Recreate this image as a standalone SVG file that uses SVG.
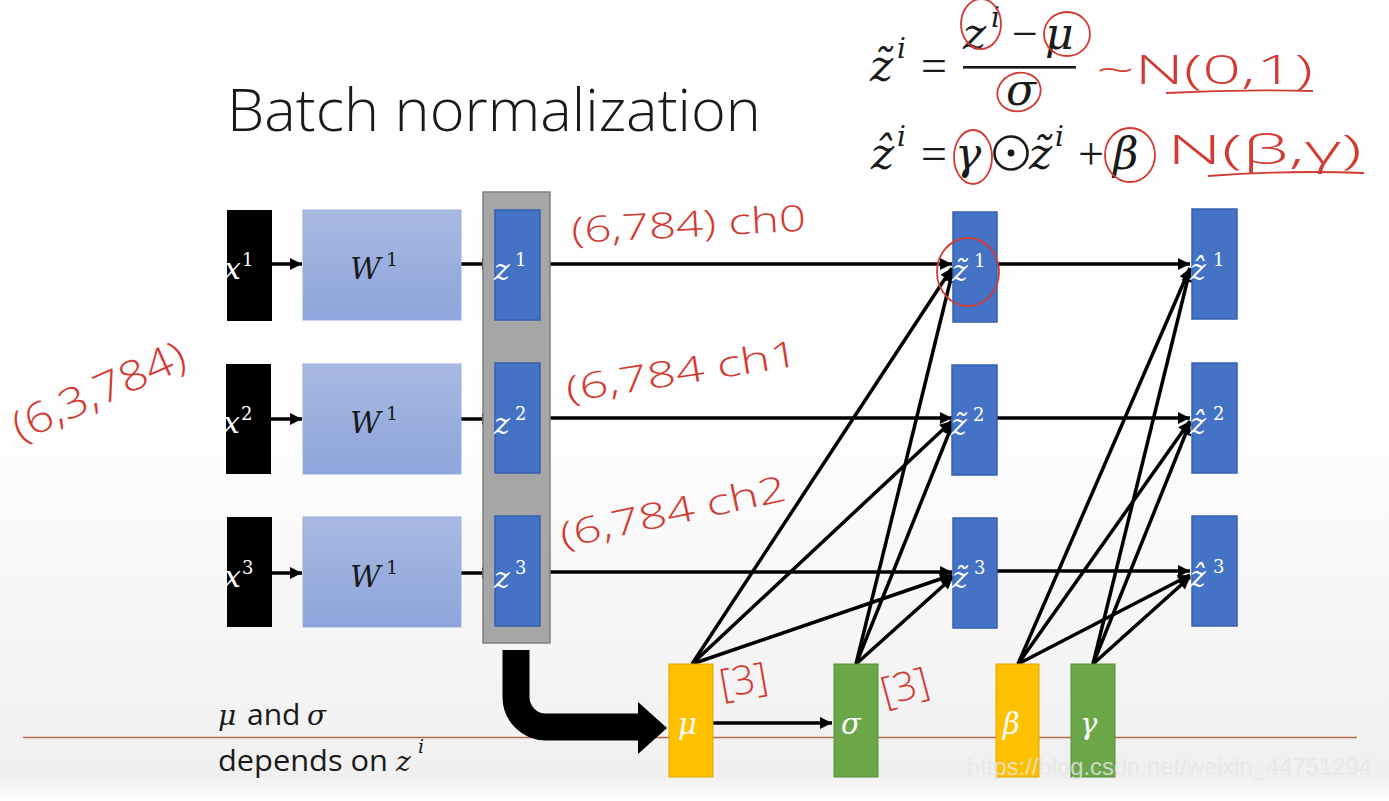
<svg xmlns="http://www.w3.org/2000/svg" width="1389" height="801" viewBox="0 0 1389 801">
<defs>
<linearGradient id="bg" x1="0" y1="0" x2="0" y2="1">
<stop offset="0" stop-color="#FFFFFF"/>
<stop offset="0.55" stop-color="#FDFDFD"/>
<stop offset="0.97" stop-color="#F0F0F0"/>
<stop offset="1" stop-color="#FFFFFF"/>
</linearGradient>
<linearGradient id="wg" x1="0" y1="0" x2="0" y2="1">
<stop offset="0" stop-color="#A9B9E2"/>
<stop offset="1" stop-color="#8DA5DB"/>
</linearGradient>
<marker id="ah" viewBox="0 0 10 10" refX="10" refY="5" markerWidth="15" markerHeight="12" markerUnits="userSpaceOnUse" orient="auto">
<path d="M0,0 L10,5 L0,10 z" fill="#000"/>
</marker>
<style>
.xb{fill:#000}
.wb{fill:url(#wg);stroke:#9AAEDD;stroke-width:1}
.zb{fill:#4472C4;stroke:#3560AE;stroke-width:1.5}
.yb{fill:#FFC000;stroke:#E0A800;stroke-width:1}
.gb{fill:#6BA649;stroke:#58903A;stroke-width:1}
.m{font-family:"DejaVu Serif",serif;font-style:italic}
.s{font-family:"DejaVu Serif",serif;font-style:normal}
.o{font-family:"Liberation Serif",serif;font-style:normal}
.wt{fill:#FFFFFF}
.dk{fill:#1A1A1A}
.c{stroke:#000;stroke-width:3.5;fill:none;marker-end:url(#ah)}
.red{fill:#D23A32;font-family:"Open Sans","DejaVu Sans",sans-serif;font-weight:300}
.rl{fill:none;stroke:#D23A32;stroke-width:1.8}
.sans{font-family:"Open Sans","Noto Sans",sans-serif;fill:#1A1A1A}
</style>
</defs>
<rect x="0" y="0" width="1389" height="801" fill="url(#bg)"/>
<line x1="23" y1="737.5" x2="1357" y2="737.5" stroke="#B8694A" stroke-width="1.6"/>

<text class="sans" x="227" y="131" font-size="58" font-weight="300" textLength="534" lengthAdjust="spacingAndGlyphs">Batch normalization</text>

<g id="eq1">
<text class="m dk" x="870" y="81" font-size="44">z̃</text>
<text class="m dk" x="897" y="58" font-size="28">i</text>
<text class="o dk" x="921" y="81" font-size="46">=</text>
<rect x="963" y="66" width="113" height="2.6" fill="#1A1A1A"/>
<text class="m dk" x="963" y="49" font-size="44">z</text>
<text class="m dk" x="991" y="27" font-size="28">i</text>
<text class="o dk" x="1012" y="49" font-size="46">−</text>
<text class="m dk" x="1045" y="49" font-size="44">μ</text>
<text class="m dk" x="1006" y="105" font-size="44">σ</text>
</g>
<g id="eq2">
<text class="m dk" x="871" y="169" font-size="44">ẑ</text>
<text class="m dk" x="897" y="146" font-size="28">i</text>
<text class="o dk" x="921" y="169" font-size="46">=</text>
<text class="m dk" x="955" y="169" font-size="44">γ</text>
<circle cx="1011" cy="153" r="16.5" fill="none" stroke="#1A1A1A" stroke-width="2.6"/>
<circle cx="1011" cy="153" r="3.4" fill="#1A1A1A"/>
<text class="m dk" x="1029" y="169" font-size="44">z̃</text>
<text class="m dk" x="1055" y="146" font-size="28">i</text>
<text class="o dk" x="1078" y="169" font-size="46">+</text>
<text class="m dk" x="1113" y="169" font-size="44">β</text>
</g>

<g id="connectors">
<path class="c" d="M271,264 L302,264"/>
<path class="c" d="M271,419 L302,419"/>
<path class="c" d="M271,573 L302,573"/>
<path class="c" d="M461,264 L494,264"/>
<path class="c" d="M461,419 L494,419"/>
<path class="c" d="M461,573 L494,573"/>
<path class="c" d="M540,264 L952,264"/>
<path class="c" d="M540,418 L952,418"/>
<path class="c" d="M540,572 L952,572"/>
<path class="c" d="M997,264 L1190,264"/>
<path class="c" d="M997,418 L1190,418"/>
<path class="c" d="M997,571 L1190,571"/>
<path class="c" d="M692,664 L952,268"/>
<path class="c" d="M692,664 L952,421"/>
<path class="c" d="M692,664 L952,575"/>
<path class="c" d="M856,664 L953,270"/>
<path class="c" d="M856,664 L953,423"/>
<path class="c" d="M856,664 L953,577"/>
<path class="c" d="M1018,664 L1190,268"/>
<path class="c" d="M1018,664 L1190,421"/>
<path class="c" d="M1018,664 L1190,575"/>
<path class="c" d="M1093,664 L1190,270"/>
<path class="c" d="M1093,664 L1190,423"/>
<path class="c" d="M1093,664 L1190,577"/>
<path class="c" d="M713,723 L832,723"/>
<path d="M516,650 V697 A30,30 0 0 0 546,727 H641" fill="none" stroke="#000" stroke-width="27"/>
<polygon points="638,702 667,728 638,754" fill="#000"/>
</g>

<g id="x1"><rect class="xb" x="227" y="210" width="45" height="111"/><text class="m wt" x="224" y="279" font-size="30">x</text><text class="s wt" x="242" y="266" font-size="18">1</text></g>
<g id="x2"><rect class="xb" x="226" y="364" width="45" height="110"/><text class="m wt" x="223" y="433" font-size="30">x</text><text class="s wt" x="241" y="420" font-size="18">2</text></g>
<g id="x3"><rect class="xb" x="227" y="517" width="45" height="110"/><text class="m wt" x="224" y="587" font-size="30">x</text><text class="s wt" x="242" y="574" font-size="18">3</text></g>

<g id="w1"><rect class="wb" x="303" y="210" width="158" height="110"/><text class="m dk" x="350" y="279" font-size="30">W</text><text class="s dk" x="386" y="266" font-size="19">1</text></g>
<g id="w2"><rect class="wb" x="303" y="364" width="158" height="110"/><text class="m dk" x="350" y="433" font-size="30">W</text><text class="s dk" x="386" y="420" font-size="19">1</text></g>
<g id="w3"><rect class="wb" x="303" y="517" width="158" height="110"/><text class="m dk" x="350" y="587" font-size="30">W</text><text class="s dk" x="386" y="574" font-size="19">1</text></g>

<g id="zcol"><rect x="483" y="192" width="67" height="451" fill="#A6A6A6" stroke="#808080" stroke-width="1.5"/></g>
<g id="z1"><rect class="zb" x="495" y="210" width="45" height="110"/><text class="m wt" x="494" y="280" font-size="30">z</text><text class="s wt" x="515" y="266" font-size="18">1</text></g>
<g id="z2"><rect class="zb" x="495" y="363" width="45" height="110"/><text class="m wt" x="494" y="434" font-size="30">z</text><text class="s wt" x="515" y="420" font-size="18">2</text></g>
<g id="z3"><rect class="zb" x="495" y="516" width="45" height="110"/><text class="m wt" x="494" y="588" font-size="30">z</text><text class="s wt" x="515" y="574" font-size="18">3</text></g>

<g id="zt1"><rect class="zb" x="953" y="212" width="44" height="110"/><text class="m wt" x="952" y="281" font-size="30">z̃</text><text class="s wt" x="974" y="267" font-size="18">1</text></g>
<g id="zt2"><rect class="zb" x="952" y="365" width="45" height="110"/><text class="m wt" x="951" y="435" font-size="30">z̃</text><text class="s wt" x="973" y="421" font-size="18">2</text></g>
<g id="zt3"><rect class="zb" x="953" y="518" width="44" height="110"/><text class="m wt" x="952" y="588" font-size="30">z̃</text><text class="s wt" x="974" y="574" font-size="18">3</text></g>

<g id="zh1"><rect class="zb" x="1192" y="209" width="45" height="110"/><text class="m wt" x="1190" y="280" font-size="30">ẑ</text><text class="s wt" x="1213" y="266" font-size="18">1</text></g>
<g id="zh2"><rect class="zb" x="1192" y="363" width="45" height="110"/><text class="m wt" x="1190" y="434" font-size="30">ẑ</text><text class="s wt" x="1213" y="420" font-size="18">2</text></g>
<g id="zh3"><rect class="zb" x="1192" y="516" width="45" height="110"/><text class="m wt" x="1190" y="587" font-size="30">ẑ</text><text class="s wt" x="1213" y="573" font-size="18">3</text></g>

<g id="mu"><rect class="yb" x="669" y="664" width="44" height="113"/><text class="m wt" x="678" y="734" font-size="29">μ</text></g>
<g id="sigma"><rect class="gb" x="834" y="664" width="44" height="113"/><text class="m wt" x="841" y="734" font-size="29">σ</text></g>
<g id="beta"><rect class="yb" x="996" y="664" width="43" height="113"/><text class="m wt" x="1003" y="734" font-size="29">β</text></g>
<g id="gamma"><rect class="gb" x="1071" y="664" width="44" height="113"/><text class="m wt" x="1080" y="734" font-size="29">γ</text></g>

<g id="note">
<text class="m dk" x="218" y="725" font-size="28">μ</text>
<text class="sans" x="247" y="725" font-size="30">and</text>
<text class="m dk" x="307" y="725" font-size="28">σ</text>
<text class="sans" x="218" y="771" font-size="30" textLength="170" lengthAdjust="spacingAndGlyphs">depends on</text>
<text class="m dk" x="396" y="771" font-size="28">z</text>
<text class="m dk" x="418" y="753" font-size="19">i</text>
</g>

<g id="annotations">
<ellipse class="rl" cx="981" cy="24" rx="20" ry="25"/>
<ellipse class="rl" cx="1067" cy="34" rx="23" ry="22"/>
<ellipse class="rl" cx="1019" cy="92" rx="22" ry="19" transform="rotate(-20 1019 92)"/>
<ellipse class="rl" cx="973" cy="157" rx="19" ry="27"/>
<ellipse class="rl" cx="1130" cy="155" rx="25" ry="27"/>
<ellipse class="rl" cx="968" cy="272" rx="31" ry="34"/>
<text class="red" x="1096" y="84" font-size="40" textLength="217" lengthAdjust="spacingAndGlyphs">~N(0,1)</text>
<path class="rl" d="M1166,93 Q1240,89 1313,91"/>
<text class="red" x="1167" y="164" font-size="40" textLength="195" lengthAdjust="spacingAndGlyphs">N(β,γ)</text>
<path class="rl" d="M1208,176 Q1290,170 1364,173"/>
<text class="red" x="572" y="243" font-size="36" transform="rotate(-3 572 243)" textLength="235" lengthAdjust="spacingAndGlyphs">(6,784) ch0</text>
<text class="red" x="568" y="402" font-size="36" transform="rotate(-9 568 402)" textLength="235" lengthAdjust="spacingAndGlyphs">(6,784  ch1</text>
<text class="red" x="563" y="548" font-size="36" transform="rotate(-12 563 548)" textLength="230" lengthAdjust="spacingAndGlyphs">(6,784 ch2</text>
<text class="red" x="20" y="442" font-size="42" transform="rotate(-24 20 442)" textLength="185" lengthAdjust="spacingAndGlyphs">(6,3,784)</text>
<text class="red" x="722" y="698" font-size="40" transform="rotate(-10 722 698)">[3]</text>
<text class="red" x="885" y="706" font-size="40" transform="rotate(-15 885 706)">[3]</text>
</g>

<text x="967" y="775" font-family="Liberation Sans, Arial, sans-serif" font-size="24" fill="#E6E6E6" opacity="0.8" textLength="405" lengthAdjust="spacingAndGlyphs">https://blog.csdn.net/weixin_44751294</text>
</svg>
